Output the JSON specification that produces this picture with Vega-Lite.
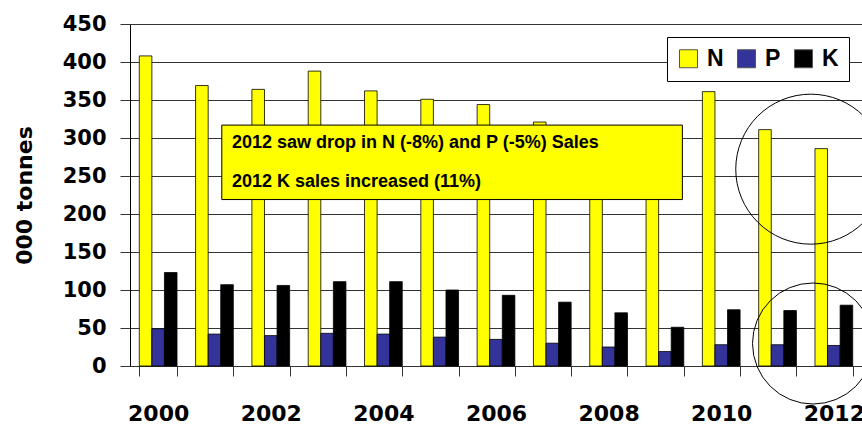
{
  "$schema": "https://vega.github.io/schema/vega-lite/v6.json",
  "width": 732,
  "height": 342,
  "autosize": {"type": "none"},
  "padding": {"left": 130, "top": 24, "right": 0, "bottom": 64},
  "background": "white",
  "config": {
    "view": {"stroke": null},
    "axis": {"labelFont": "DejaVu Sans", "labelFontWeight": "bold", "labelFontSize": 21, "labelColor": "#000", "titleFont": "DejaVu Sans", "titleFontWeight": "bold", "titleColor": "#000"},
    "legend": {
      "orient": "none", "legendX": 537, "legendY": 13, "direction": "horizontal",
      "fillColor": "white", "strokeColor": "#000", "padding": 10,
      "symbolType": "square", "symbolSize": 324, "symbolStrokeColor": "#555", "symbolStrokeWidth": 1,
      "labelFont": "Liberation Sans", "labelFontWeight": "bold", "labelFontSize": 23, "labelColor": "#000",
      "labelOffset": 7, "columnPadding": 11, "title": null
    }
  },
  "datasets": {
    "sales": [
      {"year": "2000", "nutrient": "N", "value": 408}, {"year": "2000", "nutrient": "P", "value": 49}, {"year": "2000", "nutrient": "K", "value": 123},
      {"year": "2001", "nutrient": "N", "value": 369}, {"year": "2001", "nutrient": "P", "value": 42}, {"year": "2001", "nutrient": "K", "value": 107},
      {"year": "2002", "nutrient": "N", "value": 364}, {"year": "2002", "nutrient": "P", "value": 40}, {"year": "2002", "nutrient": "K", "value": 106},
      {"year": "2003", "nutrient": "N", "value": 388}, {"year": "2003", "nutrient": "P", "value": 43}, {"year": "2003", "nutrient": "K", "value": 111},
      {"year": "2004", "nutrient": "N", "value": 362}, {"year": "2004", "nutrient": "P", "value": 42}, {"year": "2004", "nutrient": "K", "value": 111},
      {"year": "2005", "nutrient": "N", "value": 351}, {"year": "2005", "nutrient": "P", "value": 38}, {"year": "2005", "nutrient": "K", "value": 100},
      {"year": "2006", "nutrient": "N", "value": 344}, {"year": "2006", "nutrient": "P", "value": 35}, {"year": "2006", "nutrient": "K", "value": 93},
      {"year": "2007", "nutrient": "N", "value": 321}, {"year": "2007", "nutrient": "P", "value": 30}, {"year": "2007", "nutrient": "K", "value": 84},
      {"year": "2008", "nutrient": "N", "value": 310}, {"year": "2008", "nutrient": "P", "value": 25}, {"year": "2008", "nutrient": "K", "value": 70},
      {"year": "2009", "nutrient": "N", "value": 295}, {"year": "2009", "nutrient": "P", "value": 19}, {"year": "2009", "nutrient": "K", "value": 51},
      {"year": "2010", "nutrient": "N", "value": 361}, {"year": "2010", "nutrient": "P", "value": 28}, {"year": "2010", "nutrient": "K", "value": 74},
      {"year": "2011", "nutrient": "N", "value": 311}, {"year": "2011", "nutrient": "P", "value": 28}, {"year": "2011", "nutrient": "K", "value": 73},
      {"year": "2012", "nutrient": "N", "value": 286}, {"year": "2012", "nutrient": "P", "value": 27}, {"year": "2012", "nutrient": "K", "value": 80}
    ],
    "box": [{"x": 1.63, "x2": 9.81, "y": 317, "y2": 219}],
    "notes": [
      {"x": 1.81, "y": 293, "label": "2012 saw drop in N (-8%) and P (-5%) Sales"},
      {"x": 1.81, "y": 242, "label": "2012 K sales increased (11%)"}
    ],
    "circles": [
      {"ring": "upper", "x": 12.09, "y": 259},
      {"ring": "lower", "x": 12.13, "y": 29.6}
    ]
  },
  "resolve": {"scale": {"x": "independent"}},
  "layer": [
    {
      "data": {"name": "sales"},
      "mark": {"type": "bar", "stroke": "#000", "strokeWidth": 0.8},
      "encoding": {
        "x": {
          "field": "year", "type": "nominal",
          "scale": {"paddingInner": 0.33, "paddingOuter": 0.165},
          "axis": {
            "title": null, "labelAngle": 0, "tickBand": "extent",
            "labelExpr": "toNumber(datum.value) % 2 == 0 ? datum.value : ''",
            "labelFontSize": 22,
            "tickSize": 10, "tickColor": "#333", "domainColor": "#333", "labelPadding": 27
          }
        },
        "xOffset": {"field": "nutrient", "type": "nominal", "sort": ["N", "P", "K"], "scale": {"paddingInner": 0}},
        "y": {
          "field": "value", "type": "quantitative",
          "scale": {"domain": [0, 450], "nice": false},
          "axis": {
            "title": "000 tonnes", "titleFontSize": 22, "titlePadding": 26,
            "values": [0, 50, 100, 150, 200, 250, 300, 350, 400, 450],
            "labelOverlap": false,
            "grid": true, "gridColor": "#333", "gridWidth": 1,
            "tickSize": 10, "tickColor": "#333", "domainColor": "#000", "labelPadding": 14
          }
        },
        "color": {
          "field": "nutrient", "type": "nominal", "sort": ["N", "P", "K"],
          "scale": {"domain": ["N", "P", "K"], "range": ["#FFFF00", "#333399", "#000000"]},
          "legend": {}
        }
      }
    },
    {
      "data": {"name": "box"},
      "mark": {"type": "rect", "fill": "#FFFF00", "stroke": "#000", "strokeWidth": 1},
      "encoding": {
        "x": {"field": "x", "type": "quantitative", "scale": {"domain": [0, 13], "nice": false, "zero": false}, "axis": null},
        "x2": {"field": "x2"},
        "y": {"field": "y", "type": "quantitative", "axis": {"title": "000 tonnes", "titleFontSize": 22, "titlePadding": 26, "values": [0, 50, 100, 150, 200, 250, 300, 350, 400, 450], "labelOverlap": false, "grid": true, "gridColor": "#333", "gridWidth": 1, "tickSize": 10, "tickColor": "#333", "domainColor": "#000", "labelPadding": 14}},
        "y2": {"field": "y2"}
      }
    },
    {
      "data": {"name": "notes"},
      "mark": {"type": "text", "align": "left", "baseline": "middle", "font": "Liberation Sans", "fontWeight": "bold", "fontSize": 18, "color": "#000"},
      "encoding": {
        "x": {"field": "x", "type": "quantitative", "scale": {"domain": [0, 13], "nice": false, "zero": false}, "axis": null},
        "y": {"field": "y", "type": "quantitative", "axis": {"title": "000 tonnes", "titleFontSize": 22, "titlePadding": 26, "values": [0, 50, 100, 150, 200, 250, 300, 350, 400, 450], "labelOverlap": false, "grid": true, "gridColor": "#333", "gridWidth": 1, "tickSize": 10, "tickColor": "#333", "domainColor": "#000", "labelPadding": 14}},
        "text": {"field": "label"}
      }
    },
    {
      "data": {"name": "circles"},
      "transform": [{"filter": "datum.ring == 'upper'"}],
      "mark": {"type": "point", "shape": "circle", "filled": false, "stroke": "#000", "strokeWidth": 1, "size": 22500, "opacity": 1},
      "encoding": {
        "x": {"field": "x", "type": "quantitative", "scale": {"domain": [0, 13], "nice": false, "zero": false}, "axis": null},
        "y": {"field": "y", "type": "quantitative", "axis": {"title": "000 tonnes", "titleFontSize": 22, "titlePadding": 26, "values": [0, 50, 100, 150, 200, 250, 300, 350, 400, 450], "labelOverlap": false, "grid": true, "gridColor": "#333", "gridWidth": 1, "tickSize": 10, "tickColor": "#333", "domainColor": "#000", "labelPadding": 14}}
      }
    },
    {
      "data": {"name": "circles"},
      "transform": [{"filter": "datum.ring == 'lower'"}],
      "mark": {"type": "point", "shape": "circle", "filled": false, "stroke": "#000", "strokeWidth": 1, "size": 14641, "opacity": 1},
      "encoding": {
        "x": {"field": "x", "type": "quantitative", "scale": {"domain": [0, 13], "nice": false, "zero": false}, "axis": null},
        "y": {"field": "y", "type": "quantitative", "axis": {"title": "000 tonnes", "titleFontSize": 22, "titlePadding": 26, "values": [0, 50, 100, 150, 200, 250, 300, 350, 400, 450], "labelOverlap": false, "grid": true, "gridColor": "#333", "gridWidth": 1, "tickSize": 10, "tickColor": "#333", "domainColor": "#000", "labelPadding": 14}}
      }
    }
  ]
}
